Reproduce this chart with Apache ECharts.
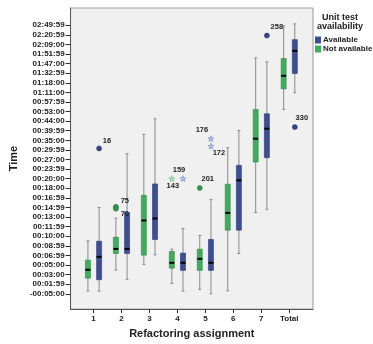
<!DOCTYPE html>
<html>
<head>
<meta charset="utf-8">
<script src="https://cdn.jsdelivr.net/npm/echarts@6/dist/echarts.min.js"></script>
<style>
  html, body { margin: 0; padding: 0; background: #fff; }
  #chart { width: 373px; height: 344px; }
</style>
</head>
<body>
<div id="chart"></div>
<script>
// 刻度标签（自下而上，等距排列）
const timeTicks = ['-00:05:00', '00:01:59', '00:03:00', '00:05:00', '00:06:59', '00:08:59',
    '00:10:00', '00:11:59', '00:13:00', '00:14:59', '00:16:59', '00:18:00', '00:20:00',
    '00:23:59', '00:27:00', '00:29:59', '00:35:00', '00:39:59', '00:44:00', '00:53:00',
    '00:57:59', '01:11:00', '01:18:00', '01:32:59', '01:47:00', '01:51:59', '02:09:00',
    '02:20:59', '02:49:59'];

const categories = ['1', '2', '3', '4', '5', '6', '7', 'Total'];

// [min, Q1, median, Q3, max]，单位为刻度序号
const notAvailable = [
    [0.28, 1.63, 2.50, 3.51, 5.52],
    [2.47, 4.20, 4.68, 5.90, 7.88],
    [3.06, 4.03, 7.64, 10.27, 16.62],
    [1.08, 2.67, 3.23, 4.41, 4.65],
    [0.46, 2.44, 3.64, 4.65, 6.08],
    [0.31, 6.63, 8.43, 11.42, 15.23],
    [8.47, 13.74, 16.17, 19.22, 24.60],
    [19.22, 21.37, 22.73, 24.53, 27.96]
];
const available = [
    [0.28, 1.46, 3.85, 5.48, 8.99],
    [1.50, 4.20, 4.68, 8.47, 14.61],
    [4.06, 5.66, 7.85, 11.45, 18.25],
    [0.28, 2.44, 3.23, 4.24, 6.81],
    [0.00, 2.44, 3.23, 5.66, 9.82],
    [4.20, 6.63, 11.83, 13.39, 17.03],
    [8.81, 14.19, 17.21, 18.77, 24.18],
    [20.96, 22.97, 25.33, 26.50, 28.14]
];

// 离群值: [类别序号, 值, 编号]
const outliersAvail = [[0, 15.16, '16'], [6, 26.92, '258'], [7, 17.38, '330']];
const outliersNotAvail = [[1, 9.07, '75'], [1, 8.87, '70'], [4, 11.03, '201']];
const extremesAvail = [[3, 12.01, '159'], [4, 16.17, '176'], [4, 15.40, '172']];
const extremesNotAvail = [[3, 12.01, '143']];

const BLUE = '#3c4f95';
const GREEN = '#3fae5c';
const FONT = 'Liberation Sans, Arial, sans-serif';
const STAR = 'path://M50,0 L61,35 L98,35 L68,57 L79,91 L50,70 L21,91 L32,57 L2,35 L39,35 Z';

// 标签摆放
const labelPlace = {
    '16': { position: 'right', distance: 1, offset: [0, -7] },
    '75': { position: 'right', distance: 2, offset: [0, -6] },
    '70': { position: 'right', distance: 2, offset: [0, 5] },
    '143': { position: 'bottom', distance: 0, offset: [1, 0] },
    '159': { position: 'top', distance: 1, offset: [-4, 0] },
    '201': { position: 'top', distance: 2, offset: [8, 0] },
    '176': { position: 'top', distance: 1, offset: [-9, 0] },
    '172': { position: 'bottom', distance: 0, offset: [8, 0] },
    '258': { position: 'top', distance: 2, offset: [10, 0] },
    '330': { position: 'top', distance: 2, offset: [7, 0] }
};

const SHIFT = 0.2;

function boxData(list, shift) {
    return list.map((d, i) => [i + 1 + shift].concat(d));
}

function pointData(list, shift) {
    return list.map(p => {
        const place = labelPlace[p[2]];
        return {
            value: [p[0] + 1 + shift, p[1]],
            name: p[2],
            label: { show: true, formatter: p[2], ...place }
        };
    });
}

function renderBox(color, border) {
    return function (params, api) {
        const x = api.value(0);
        const pMin = api.coord([x, api.value(1)]);
        const pQ1 = api.coord([x, api.value(2)]);
        const pMed = api.coord([x, api.value(3)]);
        const pQ3 = api.coord([x, api.value(4)]);
        const pMax = api.coord([x, api.value(5)]);
        const cx = pMin[0];
        const half = 2.5;
        const cap = 1.5;
        return {
            type: 'group',
            children: [
                { type: 'line', shape: { x1: cx, y1: pMin[1], x2: cx, y2: pMax[1] },
                  style: { stroke: '#8a8a8a', lineWidth: 1 } },
                { type: 'line', shape: { x1: cx - cap, y1: pMin[1], x2: cx + cap, y2: pMin[1] },
                  style: { stroke: '#8a8a8a', lineWidth: 1 } },
                { type: 'line', shape: { x1: cx - cap, y1: pMax[1], x2: cx + cap, y2: pMax[1] },
                  style: { stroke: '#8a8a8a', lineWidth: 1 } },
                { type: 'rect', shape: { x: cx - half, y: pQ3[1], width: half * 2, height: pQ1[1] - pQ3[1] },
                  style: { fill: color, stroke: border, lineWidth: 0.6 } },
                { type: 'line', shape: { x1: cx - half, y1: pMed[1], x2: cx + half, y2: pMed[1] },
                  style: { stroke: '#000', lineWidth: 2 } }
            ]
        };
    };
}

const labelStyle = { fontFamily: FONT, fontSize: 8, fontWeight: 'bold', color: '#222' };

const chart = echarts.init(document.getElementById('chart'), null, { renderer: 'canvas' });

const option = {
    animation: false,
    textStyle: { fontFamily: FONT },
    title: {
        text: 'Unit test\navailability',
        left: 340,
        top: 13,
        padding: 0,
        textAlign: 'center',
        textStyle: { fontFamily: FONT, fontSize: 9, fontWeight: 'bold', lineHeight: 9, color: '#222' }
    },
    legend: {
        orient: 'vertical',
        left: 315,
        top: 36,
        padding: 0,
        itemWidth: 6,
        itemHeight: 7,
        itemGap: 1,
        icon: 'rect',
        data: ['Available', 'Not available'],
        textStyle: { fontFamily: FONT, fontSize: 8, fontWeight: 'bold', color: '#222', padding: [0, 0, 0, -3] }
    },
    grid: {
        left: 60,
        right: 60,
        top: 8,
        bottom: 34,
        show: true,
        backgroundColor: '#f0f0f0',
        borderColor: '#9a9a9a',
        borderWidth: 1
    },
    xAxis: {
        type: 'value',
        min: 0.18,
        max: 8.85,
        name: 'Refactoring assignment',
        nameLocation: 'middle',
        nameGap: 18,
        nameTextStyle: { fontFamily: FONT, fontSize: 11, fontWeight: 'bold', color: '#222' },
        axisLine: { show: true, onZero: false, lineStyle: { color: '#555' } },
        axisTick: { show: true, length: 4, lineStyle: { color: '#333' }, customValues: categories.map((_, i) => i + 1) },
        axisLabel: { ...labelStyle, margin: 6, customValues: categories.map((_, i) => i + 1),
            formatter: v => categories[Math.round(v) - 1] || '' },
        splitLine: { show: false }
    },
    yAxis: {
        type: 'value',
        min: -1.6,
        max: 29.8,
        name: 'Time',
        nameLocation: 'middle',
        nameGap: 47,
        nameTextStyle: { fontFamily: FONT, fontSize: 11, fontWeight: 'bold', color: '#222' },
        axisLine: { show: true, onZero: false, lineStyle: { color: '#555' } },
        axisTick: { show: true, length: 5, lineStyle: { color: '#333' }, customValues: timeTicks.map((_, i) => i) },
        axisLabel: { ...labelStyle, margin: 6, customValues: timeTicks.map((_, i) => i),
            formatter: v => timeTicks[Math.round(v)] || '' },
        splitLine: { show: false }
    },
    series: [
        {
            name: 'Available',
            type: 'custom',
            itemStyle: { color: BLUE },
            renderItem: renderBox(BLUE, '#2a3870'),
            encode: { x: 0, y: [1, 2, 3, 4, 5] },
            data: boxData(available, SHIFT),
            z: 2
        },
        {
            name: 'Not available',
            type: 'custom',
            itemStyle: { color: GREEN },
            renderItem: renderBox(GREEN, '#2d8545'),
            encode: { x: 0, y: [1, 2, 3, 4, 5] },
            data: boxData(notAvailable, -SHIFT),
            z: 2
        },
        {
            type: 'scatter',
            symbol: 'circle',
            symbolSize: 5,
            itemStyle: { color: '#34468a', borderColor: '#1e2a5c', borderWidth: 0.5, opacity: 1 },
            label: { ...labelStyle, fontSize: 7.5 },
            data: pointData(outliersAvail, SHIFT),
            z: 3
        },
        {
            type: 'scatter',
            symbol: 'circle',
            symbolSize: 5,
            itemStyle: { color: '#2f9a4e', borderColor: '#1c6a33', borderWidth: 0.5, opacity: 1 },
            label: { ...labelStyle, fontSize: 7.5 },
            data: pointData(outliersNotAvail, -SHIFT),
            z: 3
        },
        {
            type: 'scatter',
            symbol: STAR,
            symbolSize: 6,
            itemStyle: { color: '#b7c1ea', borderColor: '#7584c8', borderWidth: 0.6, opacity: 1 },
            label: { ...labelStyle, fontSize: 7.5 },
            data: pointData(extremesAvail, SHIFT),
            z: 3
        },
        {
            type: 'scatter',
            symbol: STAR,
            symbolSize: 6,
            itemStyle: { color: '#aee0b4', borderColor: '#6cbf78', borderWidth: 0.6, opacity: 1 },
            label: { ...labelStyle, fontSize: 7.5 },
            data: pointData(extremesNotAvail, -SHIFT),
            z: 3
        }
    ]
};

chart.setOption(option);
</script>
</body>
</html>
